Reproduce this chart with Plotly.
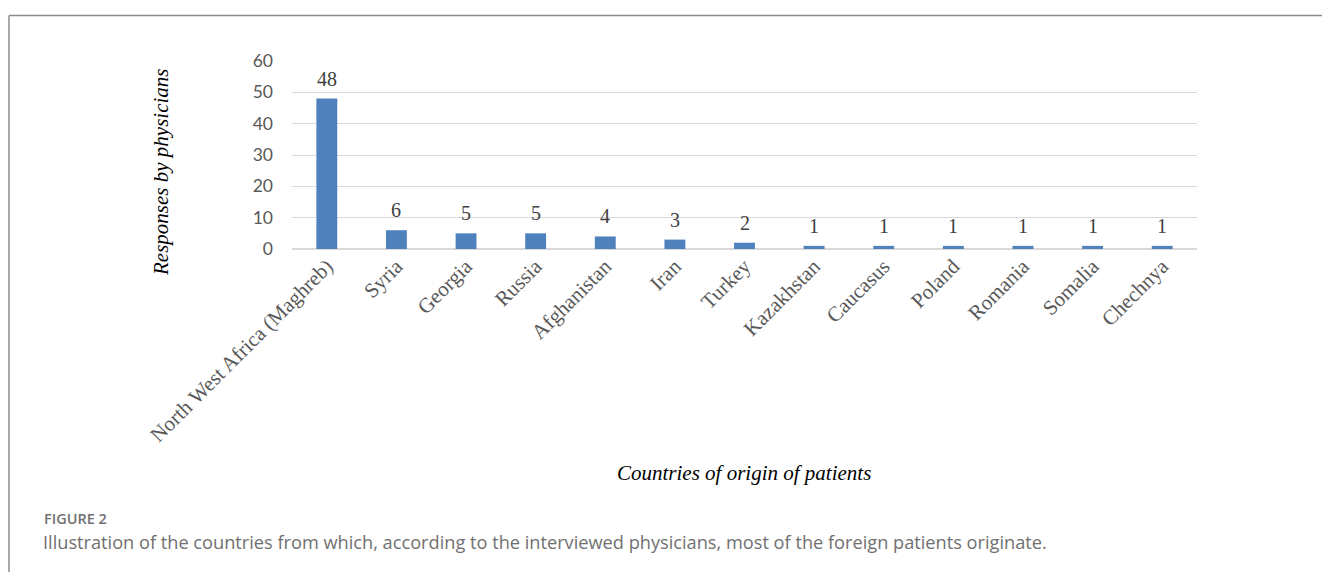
import plotly.graph_objects as go

categories = ["North West Africa (Maghreb)", "Syria", "Georgia", "Russia", "Afghanistan",
              "Iran", "Turkey", "Kazakhstan", "Caucasus", "Poland", "Romania", "Somalia", "Chechnya"]
responses = [48, 6, 5, 5, 4, 3, 2, 1, 1, 1, 1, 1, 1]
y_ticks = [0, 10, 20, 30, 40, 50, 60]

x_title = "Countries of origin of patients"
y_title = "Responses by physicians"
fig_label = "FIGURE 2"
caption = ("Illustration of the countries from which, according to the interviewed physicians, "
           "most of the foreign patients originate.")

W, H = 1322, 572
ML, MR, MT, MB = 292, 125, 61, 323
PW = W - ML - MR
PH = H - MT - MB


def px(x):
    return (x - ML) / PW


def py(y):
    return (H - MB - y) / PH


SERIF = "Liberation Serif, Times New Roman, serif"

fig = go.Figure()
fig.add_trace(go.Bar(
    x=categories, y=responses,
    marker=dict(color="#4f81bd", line=dict(width=0)),
    hoverinfo="x+y",
))

annotations = []
for c, v in zip(categories, responses):
    annotations.append(dict(
        x=c, y=v, xref="x", yref="y", text=str(v), showarrow=False,
        yanchor="bottom", yshift=7,
        font=dict(family=SERIF, size=20, color="#404040"),
    ))

annotations += [
    dict(x=px(744), y=py(473), xref="paper", yref="paper", text=f"<i>{x_title}</i>",
         showarrow=False, xanchor="center", yanchor="middle",
         font=dict(family=SERIF, size=21, color="#000000")),
    dict(x=px(161), y=py(173), xref="paper", yref="paper", text=f"<i>{y_title}</i>",
         showarrow=False, xanchor="center", yanchor="middle", textangle=-90,
         font=dict(family=SERIF, size=21, color="#000000")),
    dict(x=px(42), y=py(518.5), xref="paper", yref="paper", text=fig_label,
         showarrow=False, xanchor="left", yanchor="middle",
         font=dict(family="Open Sans", size=14.5, color="#707070", weight=600)),
    dict(x=px(41), y=py(541.5), xref="paper", yref="paper", text=caption,
         showarrow=False, xanchor="left", yanchor="middle",
         font=dict(family="Open Sans", size=18.2, color="#707070")),
]

shapes = [
    dict(type="line", xref="paper", yref="paper", x0=px(9), x1=px(W), y0=py(15.5), y1=py(15.5),
         line=dict(color="#8c8c8c", width=1.5)),
    dict(type="line", xref="paper", yref="paper", x0=px(9), x1=px(9), y0=py(15.5), y1=py(H),
         line=dict(color="#8c8c8c", width=1.5)),
]

fig.update_layout(
    width=W, height=H,
    margin=dict(l=ML, r=MR, t=MT, b=MB, pad=0),
    paper_bgcolor="white", plot_bgcolor="white",
    bargap=0.7,
    showlegend=False,
    annotations=annotations,
    shapes=shapes,
    xaxis=dict(
        type="category", tickangle=-45, showgrid=False, showline=False, zeroline=False,
        tickfont=dict(family=SERIF, size=21, color="#595959"),
        ticks="", automargin=False,
    ),
    yaxis=dict(
        range=[0, 60], tickvals=y_ticks, showgrid=True, gridcolor="#d9d9d9", gridwidth=1,
        zeroline=True, zerolinecolor="#d9d9d9", zerolinewidth=1.5, showline=False,
        tickfont=dict(family="Lato", size=17.5, color="#595959"),
        ticks="", ticklabelstandoff=18, automargin=False,
    ),
)

fig.write_html("out.html", config={"displayModeBar": False})
